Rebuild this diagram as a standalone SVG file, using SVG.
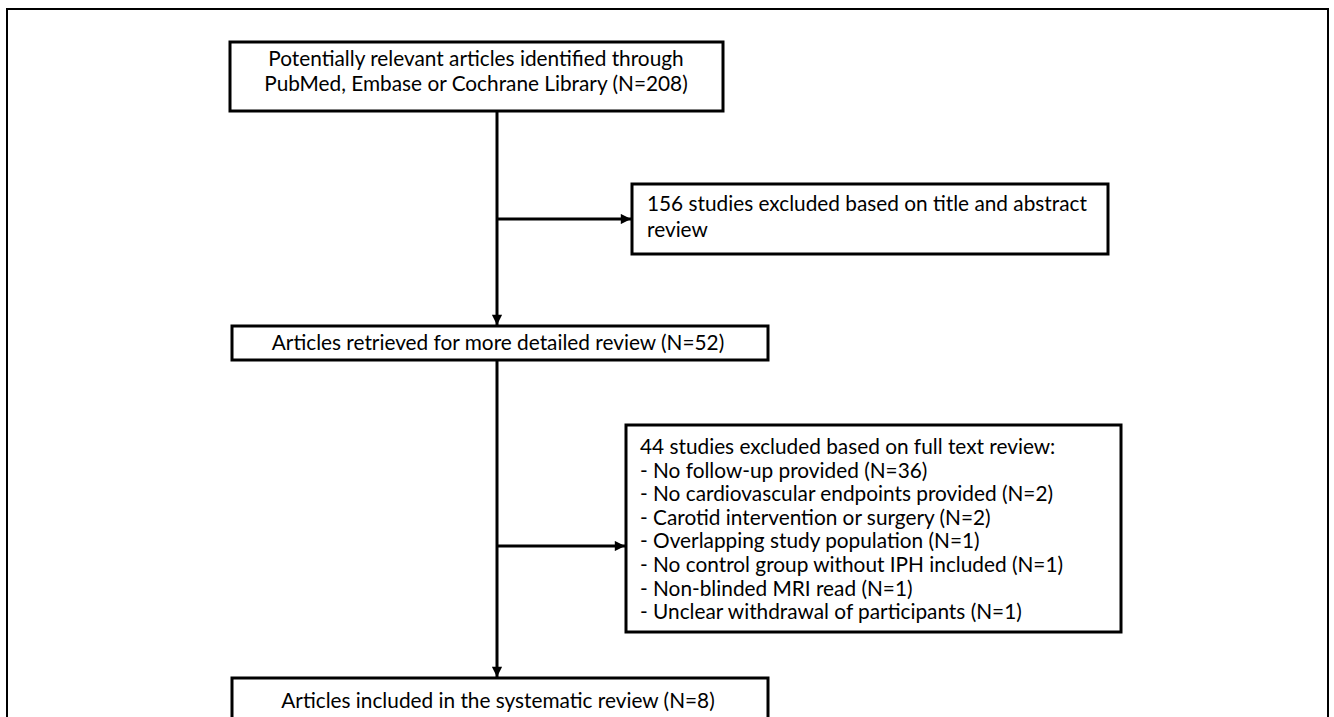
<svg xmlns="http://www.w3.org/2000/svg" width="1334" height="717" viewBox="0 0 1334 717">
<style>
.box{fill:#fff;stroke:#000;stroke-width:3}
.t{font-family:Lato,"Open Sans","Liberation Sans",sans-serif;font-size:20.8px;fill:#000}
.c{text-anchor:middle}
.ln{stroke:#000;stroke-width:3;fill:none}
</style>
<defs>
<marker id="ah" viewBox="0 0 10 10" refX="10" refY="5" markerWidth="3.8" markerHeight="3.4" orient="auto" markerUnits="strokeWidth">
<path d="M0,0 L10,5 L0,10 z" fill="#000"/>
</marker>
</defs>
<rect x="0" y="0" width="1334" height="717" fill="#fff"/>
<rect x="7" y="9" width="1321" height="730" fill="none" stroke="#000" stroke-width="2"/>
<g id="connectors">
<line class="ln" x1="497" y1="111" x2="497" y2="325" marker-end="url(#ah)"/>
<line class="ln" x1="497" y1="219" x2="631" y2="219" marker-end="url(#ah)"/>
<line class="ln" x1="497" y1="360" x2="497" y2="677" marker-end="url(#ah)"/>
<line class="ln" x1="497" y1="546" x2="625" y2="546" marker-end="url(#ah)"/>
</g>
<g id="n1">
<rect class="box" x="230" y="42" width="493" height="69"/>
<text class="t c" x="476" y="66">Potentially relevant articles identified through</text>
<text class="t c" x="476" y="91">PubMed, Embase or Cochrane Library (N=208)</text>
</g>
<g id="n2">
<rect class="box" x="632" y="184" width="476" height="70"/>
<text class="t" x="647" y="211">156 studies excluded based on title and abstract</text>
<text class="t" x="647" y="237">review</text>
</g>
<g id="n3">
<rect class="box" x="232" y="326" width="536" height="34"/>
<text class="t c" x="498" y="350">Articles retrieved for more detailed review (N=52)</text>
</g>
<g id="n4">
<rect class="box" x="626" y="425" width="495" height="207"/>
<text class="t" x="640" y="454">44 studies excluded based on full text review:</text>
<text class="t" x="640" y="477.6">- No follow-up provided (N=36)</text>
<text class="t" x="640" y="501.2">- No cardiovascular endpoints provided (N=2)</text>
<text class="t" x="640" y="524.8">- Carotid intervention or surgery (N=2)</text>
<text class="t" x="640" y="548.4">- Overlapping study population (N=1)</text>
<text class="t" x="640" y="572">- No control group without IPH included (N=1)</text>
<text class="t" x="640" y="595.6">- Non-blinded MRI read (N=1)</text>
<text class="t" x="640" y="619.2">- Unclear withdrawal of participants (N=1)</text>
</g>
<g id="n5">
<rect class="box" x="232" y="678" width="536" height="60"/>
<text class="t c" x="498" y="708">Articles included in the systematic review (N=8)</text>
</g>
</svg>
